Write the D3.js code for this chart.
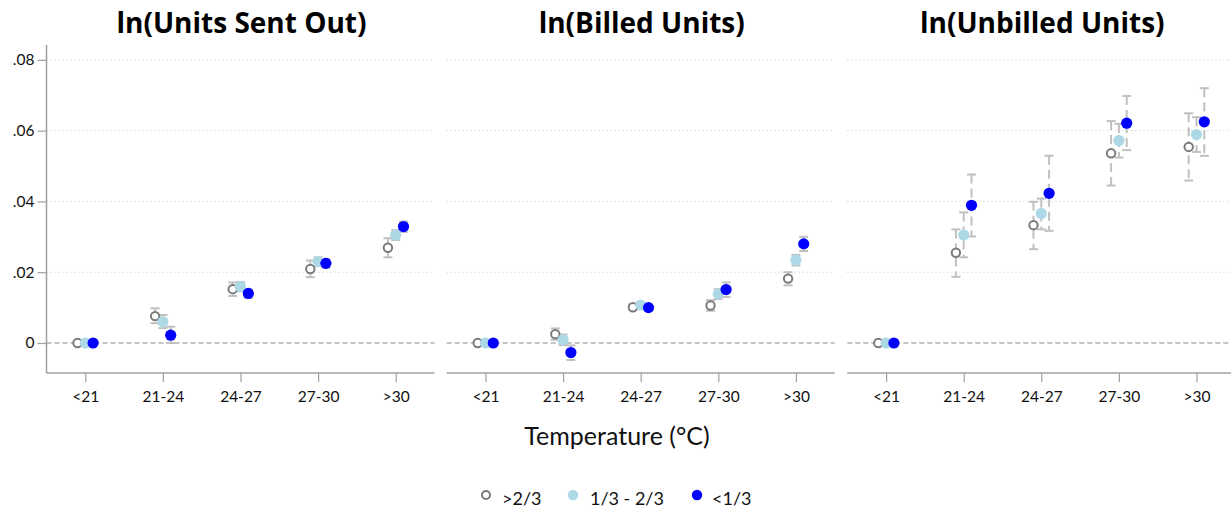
<!DOCTYPE html>
<html>
<head>
<meta charset="utf-8">
<script src="https://cdn.jsdelivr.net/npm/d3@7/dist/d3.min.js"></script>
<style>
  html, body { margin: 0; padding: 0; background: #fff; }
  svg { display: block; font-family: Lato, "Noto Sans", sans-serif; }
</style>
</head>
<body>
<svg id="chart" width="1231" height="512"></svg>
<script>
// Temperature bins and the three groups
const categories = ["<21", "21-24", "24-27", "27-30", ">30"];
const seriesNames = [">2/3", "1/3 - 2/3", "<1/3"];
const panelTitles = ["ln(Units Sent Out)", "ln(Billed Units)", "ln(Unbilled Units)"];
const yTicks = [0, 0.02, 0.04, 0.06, 0.08];

// ln(Units Sent Out)
const sentHigh   = [0, 0.0076, 0.0152, 0.0209, 0.0269];
const sentHighLo = [0, 0.0056, 0.0133, 0.0186, 0.0242];
const sentHighHi = [0, 0.0098, 0.0171, 0.0233, 0.0296];
const sentMid    = [0, 0.0060, 0.0159, 0.0230, 0.0305];
const sentMidLo  = [0, 0.0042, 0.0146, 0.0218, 0.0291];
const sentMidHi  = [0, 0.0079, 0.0172, 0.0242, 0.0319];
const sentLow    = [0, 0.0022, 0.0140, 0.0225, 0.0329];
const sentLowLo  = [0, 0.0000, 0.0128, 0.0213, 0.0314];
const sentLowHi  = [0, 0.0046, 0.0152, 0.0237, 0.0343];

// ln(Billed Units)
const billedHigh   = [0, 0.0025, 0.0101, 0.0106, 0.0182];
const billedHighLo = [0, 0.0009, 0.0093, 0.0091, 0.0163];
const billedHighHi = [0, 0.0041, 0.0109, 0.0121, 0.0200];
const billedMid    = [0, 0.0009, 0.0107, 0.0138, 0.0234];
const billedMidLo  = [0, -0.0006, 0.0099, 0.0124, 0.0219];
const billedMidHi  = [0, 0.0024, 0.0115, 0.0152, 0.0249];
const billedLow    = [0, -0.0027, 0.0100, 0.0151, 0.0280];
const billedLowLo  = [0, -0.0048, 0.0092, 0.0130, 0.0260];
const billedLowHi  = [0, -0.0007, 0.0108, 0.0171, 0.0300];

// ln(Unbilled Units)
const unbilledHigh   = [0, 0.0255, 0.0333, 0.0536, 0.0554];
const unbilledHighLo = [0, 0.0187, 0.0265, 0.0445, 0.0459];
const unbilledHighHi = [0, 0.0321, 0.0399, 0.0627, 0.0649];
const unbilledMid    = [0, 0.0305, 0.0366, 0.0572, 0.0589];
const unbilledMidLo  = [0, 0.0242, 0.0321, 0.0524, 0.0540];
const unbilledMidHi  = [0, 0.0369, 0.0408, 0.0619, 0.0638];
const unbilledLow    = [0, 0.0389, 0.0423, 0.0621, 0.0625];
const unbilledLowLo  = [0, 0.0301, 0.0317, 0.0545, 0.0529];
const unbilledLowHi  = [0, 0.0476, 0.0529, 0.0698, 0.0720];

const panels = [
  { title: panelTitles[0], series: [
    { est: sentHigh, lo: sentHighLo, hi: sentHighHi },
    { est: sentMid,  lo: sentMidLo,  hi: sentMidHi },
    { est: sentLow,  lo: sentLowLo,  hi: sentLowHi } ] },
  { title: panelTitles[1], series: [
    { est: billedHigh, lo: billedHighLo, hi: billedHighHi },
    { est: billedMid,  lo: billedMidLo,  hi: billedMidHi },
    { est: billedLow,  lo: billedLowLo,  hi: billedLowHi } ] },
  { title: panelTitles[2], series: [
    { est: unbilledHigh, lo: unbilledHighLo, hi: unbilledHighHi },
    { est: unbilledMid,  lo: unbilledMidLo,  hi: unbilledMidHi },
    { est: unbilledLow,  lo: unbilledLowLo,  hi: unbilledLowHi } ] }
];

// marker styles per group
const styles = [
  { fill: "#fff", stroke: "#7a7a7a", sw: 2, r: 4.2 },
  { fill: "#add8e6", stroke: "none", sw: 0, r: 5.6 },
  { fill: "#0000ff", stroke: "none", sw: 0, r: 5.6 }
];
const offsets = [-7.8, 0, 7.8];

const svg = d3.select("#chart");
const panelLeft = [46.5, 446.7, 847.3];
const panelW = 388;
const plotTop = 45, plotBottom = 373;

const y = d3.scaleLinear().domain([-0.00848, 0.0842]).range([plotBottom, plotTop]);

panels.forEach((p, i) => {
  const x0 = panelLeft[i];
  const g = svg.append("g");
  const x = d3.scalePoint().domain(categories).range([x0, x0 + panelW]).padding(0.5);

  // dotted gridlines
  g.selectAll("line.grid").data(yTicks.filter(t => t > 0)).join("line")
    .attr("class", "grid")
    .attr("x1", x0).attr("x2", x0 + panelW)
    .attr("y1", d => y(d)).attr("y2", d => y(d))
    .attr("stroke", "#c4c4c4").attr("stroke-width", 1)
    .attr("stroke-dasharray", "1,3");

  // zero reference line
  g.append("line")
    .attr("x1", x0).attr("x2", x0 + panelW)
    .attr("y1", y(0)).attr("y2", y(0))
    .attr("stroke", "#8c8c8c").attr("stroke-width", 1.2)
    .attr("stroke-dasharray", "5,3");

  // category axis
  const xa = g.append("g").attr("transform", `translate(0,${plotBottom})`)
    .call(d3.axisBottom(x).tickSize(9).tickPadding(9).tickSizeOuter(0));
  xa.select(".domain").attr("stroke", "#a0a0a0").attr("stroke-width", 1.5)
    .attr("d", `M${x0},0H${x0 + panelW}`);
  xa.selectAll(".tick line").attr("stroke", "#a0a0a0").attr("stroke-width", 1.2);
  xa.selectAll(".tick text").attr("font-size", 15.5).attr("fill", "#111")
    .attr("font-family", "Lato, sans-serif");

  // y axis on the first panel only
  if (i === 0) {
    const ya = g.append("g").attr("transform", `translate(${x0},0)`)
      .call(d3.axisLeft(y).tickValues(yTicks).tickSize(9).tickPadding(3)
        .tickFormat(d => d === 0 ? "0" : d3.format(".2f")(d).replace(/^0/, "")));
    ya.select(".domain").attr("stroke", "#a0a0a0").attr("stroke-width", 1.5)
      .attr("d", `M0,${plotTop}V${plotBottom}`);
    ya.selectAll(".tick line").attr("stroke", "#a0a0a0").attr("stroke-width", 1.2);
    ya.selectAll(".tick text").attr("font-size", 15.5).attr("fill", "#111")
      .attr("font-family", "Lato, sans-serif");
  }

  // confidence intervals
  p.series.forEach((s, k) => {
    const eg = g.append("g").attr("stroke", "#c0c0c0").attr("stroke-width", 2);
    categories.forEach((c, j) => {
      if (s.hi[j] === s.lo[j]) return;
      const cx = x(c) + offsets[k];
      eg.append("line").attr("x1", cx).attr("x2", cx)
        .attr("y1", y(s.hi[j])).attr("y2", y(s.lo[j]))
        .attr("stroke-dasharray", "9,5");
      [s.hi[j], s.lo[j]].forEach(v => {
        eg.append("line").attr("x1", cx - 4.5).attr("x2", cx + 4.5)
          .attr("y1", y(v)).attr("y2", y(v));
      });
    });
  });

  // point estimates
  p.series.forEach((s, k) => {
    const st = styles[k];
    g.append("g").selectAll("circle").data(categories).join("circle")
      .attr("cx", (c) => x(c) + offsets[k])
      .attr("cy", (c, j) => y(s.est[j]))
      .attr("r", st.r)
      .attr("fill", st.fill)
      .attr("stroke", st.stroke)
      .attr("stroke-width", st.sw);
  });

  // panel title
  svg.append("text")
    .attr("x", x0 + panelW / 2 + 1).attr("y", 33)
    .attr("text-anchor", "middle")
    .attr("font-family", "'Open Sans', sans-serif")
    .attr("font-size", 28).attr("font-weight", "bold")
    .attr("fill", "#000")
    .text(p.title);
});

// shared x-axis title
svg.append("text")
  .attr("x", 617).attr("y", 445)
  .attr("text-anchor", "middle")
  .attr("font-size", 25).attr("fill", "#111")
  .text("Temperature (°C)");

// legend
const legendX = [486, 573, 697];
const legendTextX = [502, 590, 712];
const legend = svg.append("g");
seriesNames.forEach((n, k) => {
  const st = styles[k];
  legend.append("circle")
    .attr("cx", legendX[k]).attr("cy", 495)
    .attr("r", k === 0 ? 4 : 5.2)
    .attr("fill", st.fill).attr("stroke", st.stroke).attr("stroke-width", st.sw);
  legend.append("text")
    .attr("x", legendTextX[k]).attr("y", 505)
    .attr("font-size", 18).attr("fill", "#111")
    .text(n);
});
</script>
</body>
</html>
